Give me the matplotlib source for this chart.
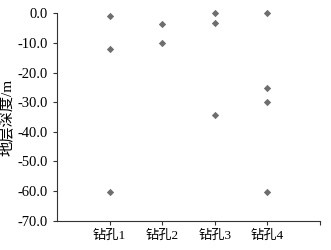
import numpy as np
import matplotlib.pyplot as plt

plt.rcParams['font.family'] = ['Liberation Serif', 'Noto Sans CJK SC']
plt.rcParams['axes.unicode_minus'] = True

holes = ['钻孔1', '钻孔2', '钻孔3', '钻孔4']
depth1 = [-0.9, -12.0, -60.3]
depth2 = [-3.7, -10.0]
depth3 = [0.0, -3.4, -34.4]
depth4 = [0.0, -25.3, -29.9, -60.3]
depths = [depth1, depth2, depth3, depth4]

fig = plt.figure(figsize=(3.31, 2.5), dpi=100)
ax = fig.add_axes([0.172, 0.117, 0.795, 0.83])

for i, d in enumerate(depths):
    ax.scatter([i + 1] * len(d), d, marker='D', s=14, color='#6e6e6e',
               linewidths=0, zorder=3, clip_on=False)

ax.set_xlim(0, 5)
ax.set_ylim(-70, 0)
ax.set_xticks([1, 2, 3, 4, 5])
ax.set_xticklabels(holes + [''])
ax.set_yticks(np.arange(-70, 1, 10))
ax.set_yticklabels(['%.1f' % v for v in np.arange(-70, 1, 10)])
ax.tick_params(length=3, width=0.8, color='#333333')
ax.tick_params(axis='y', labelsize=10.5)
ax.tick_params(axis='x', labelsize=9.5)
ax.set_ylabel('地层深度/m', fontsize=11)
ax.yaxis.set_label_coords(-0.165, 0.5)

for s in ['top', 'right']:
    ax.spines[s].set_visible(False)
for s in ['left', 'bottom']:
    ax.spines[s].set_linewidth(0.8)
    ax.spines[s].set_color('#333333')

fig.savefig('out.png', dpi=100)
